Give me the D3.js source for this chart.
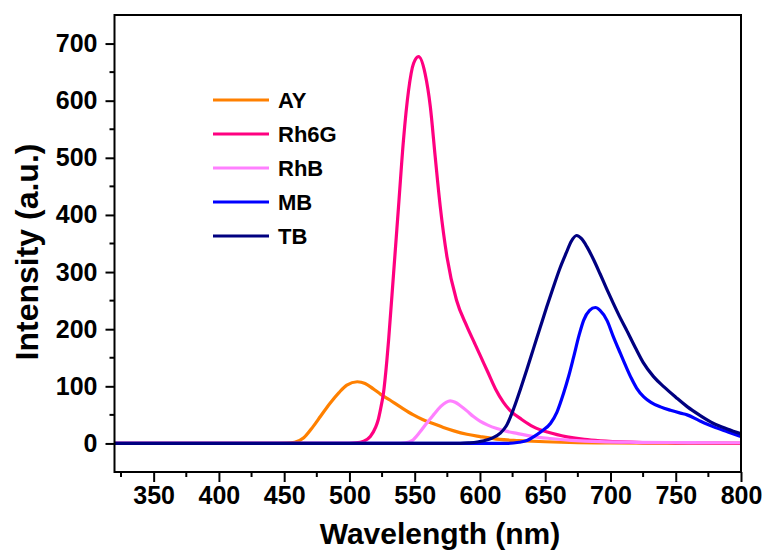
<!DOCTYPE html>
<html>
<head>
<meta charset="utf-8">
<script src="https://cdn.jsdelivr.net/npm/d3@7"></script>
<style>
  body { margin: 0; background: #fff; }
  text { font-family: "Liberation Sans", Arial, sans-serif; font-weight: bold; fill: #000; }
</style>
</head>
<body>
<div id="chart"></div>
<script>
// emission spectra, [wavelength nm, intensity a.u.]
const AY = [[320,0],[440,0],[452,0.5],[458,2],[465,10],[472,29],[478,48],[485,70],[492,89],[498,102],[506,108],
  [512,105],[518,96],[524,86],[531,76],[539,64],[549,50],[556,42],[564,35],[572,28],[580,22],[590,16],
  [600,12],[615,7],[630,5],[650,3],[675,1.5],[700,1],[750,0.5],[800,0.3]];
const Rh6G = [[320,0],[495,0],[505,1],[511,4],[516,12],[520,28],[522,41],[524,62],[526,87],[528.7,146],[530,181],
  [533.8,297],[537.6,414],[541.4,531],[545.3,618],[549.1,665],[553,677],[558,647],[562,589],[565.7,502],
  [569.6,414],[574.7,327],[582,251],[590,205],[596,175],[600,155],[606,125],[612,95],[618,72],[623,58],
  [632,42],[641,29],[653,19],[666.7,11.6],[680,7],[692,4.5],[720,2],[750,1],[800,0.3]];
const RhB = [[320,0],[535,0],[543,1],[548,5],[554,20],[559,35],[564.4,50],[570,65],[574,72],[577.2,74.6],[581,72],
  [585,66],[590,57],[595,47],[600,39],[606,32],[613,26],[620,21.5],[628.4,17.5],[640,12.5],[654,8.7],
  [670,5.5],[692,3],[720,2],[760,1.5],[800,1.2]];
const MB = [[320,0],[620,0],[630,2],[636,5],[641,11.6],[647,21],[654,35],[659,55],[664,87.5],[668,118],
  [671.8,151.6],[676,190],[679.5,216],[684,233],[688.4,238],[692,233],[697.4,215],[702,188],[707.6,157.5],
  [712,134],[716,114],[720,97],[725.5,81.6],[731,72],[738.3,64],[746,58],[753.6,53],[758.7,50],
  [768,40],[779,29],[790,20],[800,12]];
const TB = [[320,0],[585,0],[592,1],[598,2.5],[603,4.6],[609,9],[615.6,18],[620,30],[626,62],[631,95],
  [636,130],[641,166],[646,202],[651,238],[656,272],[661,305],[666,333],[670,354],[674,364],[678,358],
  [682,344],[687,322],[692,297],[697,271],[702,246],[707,222],[712,200],[719,168],[725,142],
  [733,117],[741,99],[750,81],[759,64],[768,50],[779,35],[790,25],[800,17]];

const seriesNames = ["AY", "Rh6G", "RhB", "MB", "TB"];
const seriesData = [AY, Rh6G, RhB, MB, TB];
const seriesColors = ["#ff8000", "#ff0080", "#ff80ff", "#0000ff", "#000080"];

const xTicks = [350, 400, 450, 500, 550, 600, 650, 700, 750, 800];
const xMinor = [325, 375, 425, 475, 525, 575, 625, 675, 725, 775];
const yTicks = [0, 100, 200, 300, 400, 500, 600, 700];
const yMinor = [50, 150, 250, 350, 450, 550, 650];

const width = 768, height = 554;
const margin = {top: 15, right: 27, bottom: 82, left: 114.5};

const svg = d3.select("#chart").append("svg")
    .attr("width", width)
    .attr("height", height);

const x = d3.scaleLinear()
    .domain([320, 800])
    .range([margin.left, width - margin.right]);

const y = d3.scaleLinear()
    .domain([-50, 750])
    .range([height - margin.bottom, margin.top]);

svg.append("defs").append("clipPath").attr("id", "plot-clip")
    .append("rect")
    .attr("x", x(320)).attr("y", y(750))
    .attr("width", x(800) - x(320)).attr("height", y(-50) - y(750));

// curves
const line = d3.line()
    .x(d => x(d[0]))
    .y(d => y(d[1]))
    .curve(d3.curveMonotoneX);

svg.append("g")
    .attr("clip-path", "url(#plot-clip)")
    .selectAll("path")
    .data(seriesData)
    .join("path")
    .attr("d", line)
    .attr("fill", "none")
    .attr("stroke", (d, i) => seriesColors[i])
    .attr("stroke-width", 3.2)
    .attr("stroke-linejoin", "round");

// axes
const xAxis = svg.append("g")
    .attr("transform", `translate(0,${y(-50)})`)
    .call(d3.axisBottom(x).tickValues(xTicks).tickSize(10).tickPadding(5).tickFormat(d3.format("d")));
xAxis.append("g").selectAll("line").data(xMinor).join("line")
    .attr("x1", d => x(d)).attr("x2", d => x(d))
    .attr("y1", 0).attr("y2", 5)
    .attr("stroke", "#000").attr("stroke-width", 2);

const yAxis = svg.append("g")
    .attr("transform", `translate(${x(320)},0)`)
    .call(d3.axisLeft(y).tickValues(yTicks).tickSize(9).tickPadding(8).tickFormat(d3.format("d")));
yAxis.append("g").selectAll("line").data(yMinor).join("line")
    .attr("x1", 0).attr("x2", -5)
    .attr("y1", d => y(d)).attr("y2", d => y(d))
    .attr("stroke", "#000").attr("stroke-width", 2);

svg.selectAll(".domain").remove();
svg.selectAll(".tick line").attr("stroke", "#000").attr("stroke-width", 2);
svg.selectAll(".tick text")
    .style("font-size", "25px")
    .style("font-family", "'Liberation Sans', Arial, sans-serif")
    .style("font-weight", "bold")
    .attr("fill", "#000");
xAxis.selectAll(".tick text").attr("dy", "0.68em");

// frame
svg.append("rect")
    .attr("x", x(320)).attr("y", y(750))
    .attr("width", x(800) - x(320)).attr("height", y(-50) - y(750))
    .attr("fill", "none")
    .attr("stroke", "#000")
    .attr("stroke-width", 2);

// axis titles
svg.append("text")
    .attr("x", 440)
    .attr("y", 544)
    .attr("text-anchor", "middle")
    .style("font-size", "30px")
    .text("Wavelength (nm)");

svg.append("text")
    .attr("transform", "translate(38,252) rotate(-90)")
    .attr("text-anchor", "middle")
    .style("font-size", "32px")
    .text("Intensity (a.u.)");

// legend
const legend = svg.append("g")
    .selectAll("g")
    .data(seriesNames)
    .join("g")
    .attr("transform", (d, i) => `translate(213,${100 + i * 34})`);

legend.append("line")
    .attr("x1", 0).attr("x2", 56)
    .attr("y1", 0).attr("y2", 0)
    .attr("stroke", (d, i) => seriesColors[i])
    .attr("stroke-width", 3.2);

legend.append("text")
    .attr("x", 65)
    .attr("y", 0)
    .attr("dy", "0.36em")
    .style("font-size", "22px")
    .text(d => d);
</script>
</body>
</html>
